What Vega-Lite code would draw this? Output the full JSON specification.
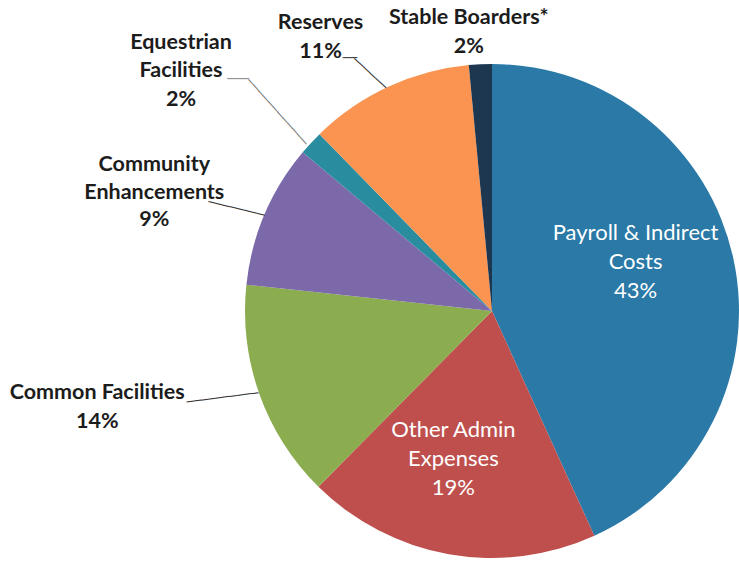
{
  "$schema": "https://vega.github.io/schema/vega-lite/v6.json",
  "autosize": "none",
  "width": 494,
  "height": 496,
  "padding": {"left": 245, "top": 63, "right": 0, "bottom": 3},
  "background": "white",
  "config": {"view": {"stroke": null}},
  "data": {
    "values": [
      {"cat": "Payroll & Indirect Costs", "value": 43.2, "ord": 1, "label": "Payroll & Indirect\nCosts\n43%"},
      {"cat": "Other Admin Expenses", "value": 19.2, "ord": 2, "label": "Other Admin\nExpenses\n19%"},
      {"cat": "Common Facilities", "value": 14.3, "ord": 3, "label": "Common Facilities\n14%"},
      {"cat": "Community Enhancements", "value": 9.4, "ord": 4, "label": "Community\nEnhancements\n9%"},
      {"cat": "Equestrian Facilities", "value": 1.6, "ord": 5, "label": "Equestrian\nFacilities\n2%"},
      {"cat": "Reserves", "value": 10.8, "ord": 6, "label": "Reserves\n11%"},
      {"cat": "Stable Boarders*", "value": 1.5, "ord": 7, "label": "Stable Boarders*\n2%"}
    ]
  },
  "encoding": {
    "theta": {"field": "value", "type": "quantitative", "stack": true},
    "order": {"field": "ord", "type": "quantitative"},
    "detail": {"field": "cat", "type": "nominal"}
  },
  "layer": [
    {
      "mark": {"type": "arc", "outerRadius": 247},
      "encoding": {
        "color": {
          "field": "cat", "type": "nominal", "legend": null,
          "scale": {
            "domain": ["Payroll & Indirect Costs", "Other Admin Expenses", "Common Facilities", "Community Enhancements", "Equestrian Facilities", "Reserves", "Stable Boarders*"],
            "range": ["#2A79A6", "#BE4F4D", "#8CAC50", "#7B69AA", "#2A8C9F", "#FA9450", "#1E3750"]
          }
        }
      }
    },
    {
      "mark": {"type": "text", "radius": 151, "dx": -4, "dy": -46, "font": "Lato", "fontSize": 22, "lineHeight": 29, "fill": "white", "lineBreak": "\n", "align": "center", "baseline": "middle"},
      "encoding": {"text": {"condition": {"test": "datum.cat === 'Payroll & Indirect Costs'", "field": "label"}, "value": ""}}
    },
    {
      "mark": {"type": "text", "radius": 152, "dx": -12, "dy": -31, "font": "Lato", "fontSize": 22, "lineHeight": 29, "fill": "white", "lineBreak": "\n", "align": "center", "baseline": "middle"},
      "encoding": {"text": {"condition": {"test": "datum.cat === 'Other Admin Expenses'", "field": "label"}, "value": ""}}
    },
    {
      "mark": {"type": "text", "radius": 400, "dx": -18, "dy": -52, "font": "Lato", "fontWeight": "bold", "fontSize": 21.5, "lineHeight": 29, "fill": "#1c1c1c", "lineBreak": "\n", "align": "center", "baseline": "middle"},
      "encoding": {"text": {"condition": {"test": "datum.cat === 'Common Facilities'", "field": "label"}, "value": ""}}
    },
    {
      "mark": {"type": "text", "radius": 355, "dx": -11, "dy": -7, "font": "Lato", "fontWeight": "bold", "fontSize": 21.5, "lineHeight": 27.5, "fill": "#1c1c1c", "lineBreak": "\n", "align": "center", "baseline": "middle"},
      "encoding": {"text": {"condition": {"test": "datum.cat === 'Community Enhancements'", "field": "label"}, "value": ""}}
    },
    {
      "mark": {"type": "text", "radius": 390, "dx": -25, "dy": -3, "font": "Lato", "fontWeight": "bold", "fontSize": 21.5, "lineHeight": 28.5, "fill": "#1c1c1c", "lineBreak": "\n", "align": "center", "baseline": "middle"},
      "encoding": {"text": {"condition": {"test": "datum.cat === 'Equestrian Facilities'", "field": "label"}, "value": ""}}
    },
    {
      "mark": {"type": "text", "radius": 320, "dx": -37, "dy": 2, "font": "Lato", "fontWeight": "bold", "fontSize": 21.5, "lineHeight": 29, "fill": "#1c1c1c", "lineBreak": "\n", "align": "center", "baseline": "middle"},
      "encoding": {"text": {"condition": {"test": "datum.cat === 'Reserves'", "field": "label"}, "value": ""}}
    },
    {
      "mark": {"type": "text", "radius": 280, "dx": -10, "dy": -13, "font": "Lato", "fontWeight": "bold", "fontSize": 21.5, "lineHeight": 29, "fill": "#1c1c1c", "lineBreak": "\n", "align": "center", "baseline": "middle"},
      "encoding": {"text": {"condition": {"test": "datum.cat === 'Stable Boarders*'", "field": "label"}, "value": ""}}
    },
    {
      "mark": {"type": "text", "radius": 281, "angle": -7.4, "dx": -3.7, "dy": -8.5, "font": "DejaVu Sans Mono", "fontSize": 12, "fill": "#333333", "align": "center", "baseline": "middle"},
      "encoding": {"text": {"condition": {"test": "datum.cat === 'Common Facilities'", "value": "──────────"}, "value": ""}}
    },
    {
      "mark": {"type": "text", "radius": 275, "angle": 13.8, "dx": -1.1, "dy": 5.5, "font": "DejaVu Sans Mono", "fontSize": 12, "fill": "#333333", "align": "center", "baseline": "middle"},
      "encoding": {"text": {"condition": {"test": "datum.cat === 'Community Enhancements'", "value": "────────"}, "value": ""}}
    },
    {
      "mark": {"type": "text", "radius": 292, "angle": 48.2, "dx": -0.6, "dy": 0, "font": "DejaVu Sans Mono", "fontSize": 12, "fill": "#777777", "align": "center", "baseline": "middle"},
      "encoding": {"text": {"condition": {"test": "datum.cat === 'Equestrian Facilities'", "value": "────────────"}, "value": ""}}
    },
    {
      "mark": {"type": "text", "radius": 344, "angle": 0, "dx": -1.7, "dy": 1.9, "font": "DejaVu Sans Mono", "fontSize": 12, "fill": "#888888", "align": "center", "baseline": "middle"},
      "encoding": {"text": {"condition": {"test": "datum.cat === 'Equestrian Facilities'", "value": "───"}, "value": ""}}
    },
    {
      "mark": {"type": "text", "radius": 267, "angle": 43, "dx": -4, "dy": 10, "font": "DejaVu Sans Mono", "fontSize": 12, "fill": "#333333", "align": "center", "baseline": "middle"},
      "encoding": {"text": {"condition": {"test": "datum.cat === 'Reserves'", "value": "──────"}, "value": ""}}
    },
    {
      "mark": {"type": "text", "radius": 289, "angle": 0, "dx": -20.6, "dy": 9.3, "font": "DejaVu Sans Mono", "fontSize": 12, "fill": "#333333", "align": "center", "baseline": "middle"},
      "encoding": {"text": {"condition": {"test": "datum.cat === 'Reserves'", "value": "──"}, "value": ""}}
    }
  ]
}
